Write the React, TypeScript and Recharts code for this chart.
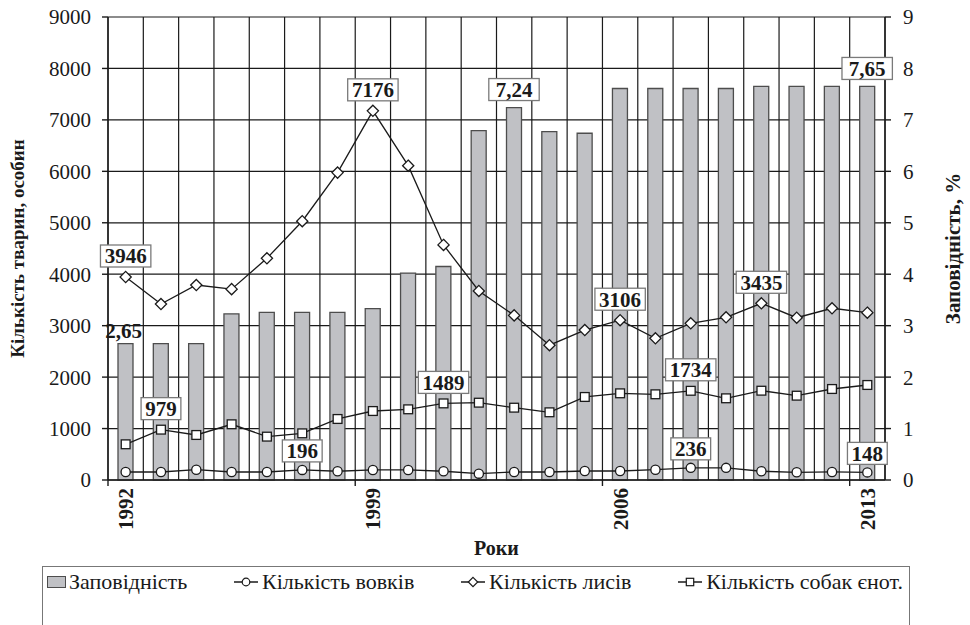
import React from 'react';
import { ComposedChart, Bar, Line, XAxis, YAxis, CartesianGrid, LabelList } from 'recharts';

const years = [1992, 1993, 1994, 1995, 1996, 1997, 1998, 1999, 2000, 2001, 2002, 2003, 2004, 2005, 2006, 2007, 2008, 2009, 2010, 2011, 2012, 2013];
const reservePercent = [2.65, 2.65, 2.65, 3.23, 3.26, 3.26, 3.26, 3.33, 4.02, 4.15, 6.79, 7.24, 6.77, 6.74, 7.61, 7.61, 7.61, 7.61, 7.65, 7.65, 7.65, 7.65];
const wolves = [156, 156, 200, 156, 156, 196, 170, 195, 195, 170, 123, 156, 156, 175, 175, 200, 236, 236, 170, 150, 156, 148];
const foxes = [3946, 3420, 3790, 3710, 4310, 5030, 5975, 7176, 6110, 4570, 3675, 3200, 2620, 2915, 3106, 2755, 3045, 3163, 3435, 3155, 3338, 3253];
const raccoonDogs = [694, 979, 875, 1083, 843, 907, 1186, 1341, 1374, 1489, 1503, 1406, 1316, 1614, 1685, 1666, 1734, 1588, 1736, 1639, 1769, 1847];

const leftTicks = [0, 1000, 2000, 3000, 4000, 5000, 6000, 7000, 8000, 9000];
const rightTicks = [0, 1, 2, 3, 4, 5, 6, 7, 8, 9];

const reserveLabelYears = [1992, 2003, 2013];
const unboxedLabelYears = [1992];
const wolfLabelYears = [1997, 2008, 2013];
const foxLabelYears = [1992, 1999, 2006, 2010];
const dogLabelYears = [1993, 2001, 2008];

const legendNames = ['Заповідність', 'Кількість вовків', 'Кількість лисів', 'Кількість собак єнот.'];

const data = years.map((year, i) => ({
  year: String(year),
  reserve: reservePercent[i],
  wolves: wolves[i],
  foxes: foxes[i],
  dogs: raccoonDogs[i],
}));

const SERIF = "'Liberation Serif', 'Times New Roman', serif";
const INK = '#1a1a1a';
const BAR_FILL = '#c0c1c5';
const BAR_STROKE = '#4d4d4d';

const BoxText = ({ cx, cy, text, boxed }: any) => {
  const w = text.length * 10.6 + 8;
  const h = 22;
  return (
    <g>
      {boxed && (
        <rect x={cx - w / 2} y={cy - h / 2} width={w} height={h} fill="#fff" stroke="#7a7a7a" strokeWidth={1.3} />
      )}
      <text x={cx} y={cy} dy="0.35em" textAnchor="middle" style={{ fontFamily: SERIF }} fontWeight="bold" fontSize={21} fill={INK}>
        {text}
      </text>
    </g>
  );
};

const lineLabel = (labelYears: number[], lift: number) => (props: any) => {
  const { x, y, value, index } = props;
  if (!labelYears.includes(years[index])) return null;
  return <BoxText key={`l${index}`} cx={x} cy={y - lift} text={String(value)} boxed />;
};

const barLabel = (props: any) => {
  const { x, y, width, value, index } = props;
  const yr = years[index];
  if (!reserveLabelYears.includes(yr)) return null;
  const boxed = !unboxedLabelYears.includes(yr);
  const text = Number(value).toFixed(2).replace('.', ',');
  return <BoxText key={`b${index}`} cx={x + width / 2 - (boxed ? 0 : 2)} cy={y - (boxed ? 18 : 13)} text={text} boxed={boxed} />;
};

const CircleDot = (p: any) => {
  if (p.cx == null || p.cy == null) return null;
  return <circle key={`c${p.index}`} cx={p.cx} cy={p.cy} r={4.6} fill="#fff" stroke={INK} strokeWidth={1.3} />;
};
const DiamondDot = (p: any) => {
  if (p.cx == null || p.cy == null) return null;
  const s = 5.6;
  return (
    <path key={`d${p.index}`} d={`M${p.cx},${p.cy - s} L${p.cx + s},${p.cy} L${p.cx},${p.cy + s} L${p.cx - s},${p.cy} Z`} fill="#fff" stroke={INK} strokeWidth={1.3} />
  );
};
const SquareDot = (p: any) => {
  if (p.cx == null || p.cy == null) return null;
  const s = 4.4;
  return <rect key={`s${p.index}`} x={p.cx - s} y={p.cy - s} width={2 * s} height={2 * s} fill="#fff" stroke={INK} strokeWidth={1.3} />;
};

const YearTick = (props: any) => {
  const { x, y, payload } = props;
  const half = payload && payload.offset ? payload.offset : 777 / years.length / 2;
  const axisY = y - 8;
  return (
    <g>
      <line x1={x - half} y1={axisY} x2={x - half} y2={axisY + 6} stroke={INK} strokeWidth={1.4} />
      <text
        x={x}
        y={y}
        transform={`rotate(-90 ${x} ${y})`}
        textAnchor="end"
        dy="0.36em"
        style={{ fontFamily: SERIF }}
        fontWeight="bold"
        fontSize={21}
        fill={INK}
      >
        {payload.value}
      </text>
    </g>
  );
};

const LeftTitle = (props: any) => {
  const vb = props.viewBox;
  const x = vb.x + 17;
  const y = vb.y + vb.height / 2;
  return (
    <text x={x} y={y} transform={`rotate(-90 ${x} ${y})`} textAnchor="middle" dy="0.35em" style={{ fontFamily: SERIF }} fontWeight="bold" fontSize={19} fill={INK}>
      Кількість тварин, особин
    </text>
  );
};
const RightTitle = (props: any) => {
  const vb = props.viewBox;
  const x = vb.x + 68;
  const y = vb.y + vb.height / 2;
  return (
    <text x={x} y={y} transform={`rotate(-90 ${x} ${y})`} textAnchor="middle" dy="0.35em" style={{ fontFamily: SERIF }} fontWeight="bold" fontSize={21} fill={INK}>
      Заповідність, %
    </text>
  );
};
const BottomTitle = (props: any) => {
  const vb = props.viewBox;
  return (
    <text x={vb.x + vb.width / 2} y={vb.y + 68} textAnchor="middle" dy="0.35em" style={{ fontFamily: SERIF }} fontWeight="bold" fontSize={20} fill={INK}>
      Роки
    </text>
  );
};

const LineIcon = ({ kind }: { kind: string }) => (
  <svg width={26} height={14} style={{ display: 'block' }}>
    <line x1={1} y1={7} x2={25} y2={7} stroke={INK} strokeWidth={1.5} />
    {kind === 'circle' && <circle cx={13} cy={7} r={3.8} fill="#fff" stroke={INK} strokeWidth={1.2} />}
    {kind === 'diamond' && <path d="M13,2.3 L17.7,7 L13,11.7 L8.3,7 Z" fill="#fff" stroke={INK} strokeWidth={1.2} />}
    {kind === 'square' && <rect x={9.3} y={3.3} width={7.4} height={7.4} fill="#fff" stroke={INK} strokeWidth={1.2} />}
  </svg>
);

const Legend = () => {
  const item = (icon: React.ReactNode, label: string) => (
    <div style={{ display: 'flex', alignItems: 'center' }}>
      {icon}
      <span style={{ marginLeft: 3 }}>{label}</span>
    </div>
  );
  return (
    <div
      style={{
        position: 'absolute',
        left: 42,
        top: 566,
        width: 868,
        height: 60,
        borderTop: '1.5px solid #777',
        borderLeft: '1.5px solid #777',
        borderRight: '1.5px solid #777',
        boxSizing: 'border-box',
        fontFamily: SERIF,
        fontSize: 22,
        color: INK,
        display: 'flex',
        justifyContent: 'space-between',
        alignItems: 'flex-start',
        padding: '2px 6px 0 4px',
        whiteSpace: 'nowrap',
      }}
    >
      {item(<div style={{ width: 17, height: 10, background: BAR_FILL, border: `1.3px solid ${BAR_STROKE}` }} />, legendNames[0])}
      {item(<LineIcon kind="circle" />, legendNames[1])}
      {item(<LineIcon kind="diamond" />, legendNames[2])}
      {item(<LineIcon kind="square" />, legendNames[3])}
    </div>
  );
};

const tickStyle = { fontFamily: SERIF, fontSize: 21, fill: INK };

export default function App() {
  return (
    <div style={{ position: 'absolute', left: 0, top: 0, width: 970, height: 625, background: '#fff' }}>
      <ComposedChart width={970} height={625} data={data} margin={{ top: 17, right: 0, left: 0, bottom: 0 }}>
        <CartesianGrid
          stroke={INK}
          strokeWidth={1.2}
          verticalCoordinatesGenerator={({ offset }: any) =>
            Array.from({ length: years.length + 1 }, (_, i) => offset.left + (i * offset.width) / years.length)
          }
          horizontalCoordinatesGenerator={({ offset }: any) =>
            leftTicks.map((_, i) => offset.top + (i * offset.height) / (leftTicks.length - 1))
          }
        />
        <XAxis
          dataKey="year"
          interval={6}
          height={145}
          tickSize={6}
          tickMargin={2}
          tickLine={false}
          axisLine={{ stroke: INK, strokeWidth: 1.4 }}
          tick={<YearTick />}
          label={{ content: <BottomTitle /> } as any}
        />
        <YAxis
          yAxisId="left"
          orientation="left"
          width={108}
          domain={[0, 9000]}
          ticks={leftTicks}
          interval={0}
          tickSize={6}
          tickMargin={11}
          axisLine={{ stroke: INK, strokeWidth: 1.4 }}
          tickLine={{ stroke: INK, strokeWidth: 1.4 }}
          tick={{ ...tickStyle, style: { fontFamily: SERIF } } as any}
          label={{ content: <LeftTitle /> } as any}
        />
        <YAxis
          yAxisId="right"
          orientation="right"
          width={85}
          domain={[0, 9]}
          ticks={rightTicks}
          interval={0}
          tickSize={6}
          tickMargin={12}
          axisLine={{ stroke: INK, strokeWidth: 1.4 }}
          tickLine={{ stroke: INK, strokeWidth: 1.4 }}
          tick={{ ...tickStyle, textAnchor: 'start', style: { fontFamily: SERIF } } as any}
          label={{ content: <RightTitle /> } as any}
        />
        <Bar yAxisId="right" dataKey="reserve" barSize={15} fill={BAR_FILL} stroke={BAR_STROKE} strokeWidth={1.3} isAnimationActive={false}>
          <LabelList dataKey="reserve" content={barLabel} />
        </Bar>
        <Line yAxisId="left" dataKey="dogs" stroke={INK} strokeWidth={1.3} dot={SquareDot} activeDot={false} isAnimationActive={false}>
          <LabelList dataKey="dogs" content={lineLabel(dogLabelYears, 21)} />
        </Line>
        <Line yAxisId="left" dataKey="wolves" stroke={INK} strokeWidth={1.3} dot={CircleDot} activeDot={false} isAnimationActive={false}>
          <LabelList dataKey="wolves" content={lineLabel(wolfLabelYears, 19)} />
        </Line>
        <Line yAxisId="left" dataKey="foxes" stroke={INK} strokeWidth={1.3} dot={DiamondDot} activeDot={false} isAnimationActive={false}>
          <LabelList dataKey="foxes" content={lineLabel(foxLabelYears, 21)} />
        </Line>
      </ComposedChart>
      <Legend />
    </div>
  );
}
